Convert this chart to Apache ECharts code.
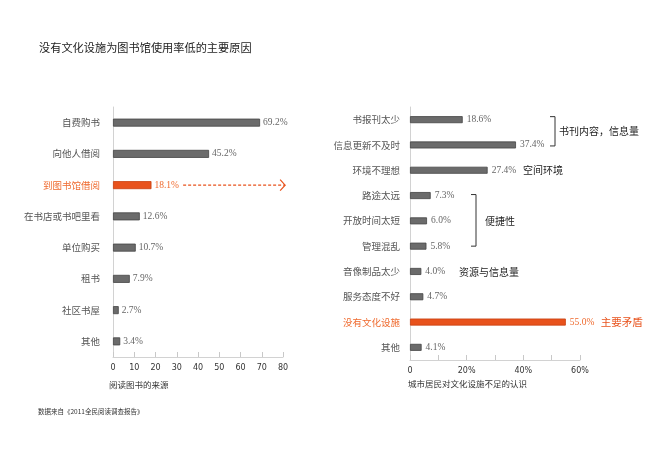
<!DOCTYPE html>
<html>
<head>
<meta charset="utf-8">
<script src="https://cdn.jsdelivr.net/npm/echarts@6/dist/echarts.min.js"></script>
<style>
  html, body { margin: 0; padding: 0; background: #fff; }
  #main { width: 667px; height: 471px; }
</style>
</head>
<body>
<div id="main"></div>
<script>
// 阅读图书的来源
const leftCategories = ['自费购书', '向他人借阅', '到图书馆借阅', '在书店或书吧里看', '单位购买', '租书', '社区书屋', '其他'];
const leftValues = [69.2, 45.2, 18.1, 12.6, 10.7, 7.9, 2.7, 3.4];
const leftHighlight = '到图书馆借阅';

// 城市居民对文化设施不足的认识
const rightCategories = ['书报刊太少', '信息更新不及时', '环境不理想', '路途太远', '开放时间太短', '管理混乱', '音像制品太少', '服务态度不好', '没有文化设施', '其他'];
const rightValues = [18.6, 37.4, 27.4, 7.3, 6.0, 5.8, 4.0, 4.7, 55.0, 4.1];
const rightHighlight = '没有文化设施';
const rightTickLabels = { 0: '0', 20: '20%', 40: '40%', 60: '60%' };

const ORANGE = '#e8521c';
const ORANGE_TXT = '#ef6a2e';
const GREY = '#6b6b6b';
const SANS = '"Noto Sans CJK SC", "DejaVu Sans", sans-serif';
const SERIF = '"Liberation Serif", "Noto Sans CJK SC", serif';

function barData(cats, vals, hl) {
    return vals.map(function (v, i) {
        const on = cats[i] === hl;
        return {
            value: v,
            itemStyle: on ? { color: ORANGE, borderColor: '#c8400f' } : undefined,
            label: on ? { color: ORANGE_TXT } : undefined
        };
    });
}

function catAxis(idx, cats, hl, margin) {
    return {
        type: 'category', gridIndex: idx, data: cats, inverse: true,
        axisLine: { lineStyle: { color: '#d2d2d2', width: 1 } },
        axisTick: { show: false },
        axisLabel: {
            margin: margin, fontSize: 9.5, fontFamily: SANS,
            color: function (v) { return v === hl ? ORANGE_TXT : '#555'; }
        }
    };
}

const myChart = echarts.init(document.getElementById('main'));

const option = {
    animation: false,
    backgroundColor: '#fff',
    grid: [
        { left: 113, width: 170, top: 107, height: 250 },
        { left: 410, width: 170, top: 107, height: 253 }
    ],
    xAxis: [
        {
            type: 'value', gridIndex: 0, min: 0, max: 80, interval: 10,
            axisLine: { show: true, lineStyle: { color: '#d2d2d2' } },
            axisTick: { show: true, inside: true, length: 5, lineStyle: { color: '#c8c8c8' } },
            splitLine: { show: false },
            axisLabel: { fontSize: 8, color: '#333', fontFamily: '"DejaVu Sans", sans-serif', margin: 7 }
        },
        {
            type: 'value', gridIndex: 1, min: 0, max: 60, interval: 10,
            axisLine: { show: true, lineStyle: { color: '#d2d2d2' } },
            axisTick: { show: true, inside: true, length: 5, lineStyle: { color: '#c8c8c8' } },
            splitLine: { show: false },
            axisLabel: {
                fontSize: 8, color: '#333', fontFamily: '"DejaVu Sans", sans-serif', margin: 7,
                formatter: function (v) { return rightTickLabels[v] || ''; }
            }
        }
    ],
    yAxis: [
        catAxis(0, leftCategories, leftHighlight, 13),
        catAxis(1, rightCategories, rightHighlight, 10)
    ],
    series: [
        {
            type: 'bar', xAxisIndex: 0, yAxisIndex: 0, barWidth: 8,
            itemStyle: { color: GREY, borderColor: '#444', borderWidth: 0.8 },
            label: {
                show: true, position: 'right', distance: 3, fontSize: 9.5,
                fontFamily: SERIF, color: '#666',
                formatter: function (p) { return p.value.toFixed(1) + '%'; }
            },
            data: barData(leftCategories, leftValues, leftHighlight)
        },
        {
            type: 'bar', xAxisIndex: 1, yAxisIndex: 1, barWidth: 7,
            itemStyle: { color: GREY, borderColor: '#444', borderWidth: 0.8 },
            label: {
                show: true, position: 'right', distance: 4, fontSize: 9.5,
                fontFamily: SERIF, color: '#666',
                formatter: function (p) { return p.value.toFixed(1) + '%'; }
            },
            data: barData(rightCategories, rightValues, rightHighlight)
        }
    ]
};
myChart.setOption(option);

// annotations, placed from the axes
function ly(cat) { return myChart.convertToPixel({ gridIndex: 0 }, [0, cat])[1]; }
function ry(cat) { return myChart.convertToPixel({ gridIndex: 1 }, [0, cat])[1]; }
function rx(v) { return myChart.convertToPixel({ gridIndex: 1 }, [v, rightCategories[0]])[0]; }
function lx(v) { return myChart.convertToPixel({ gridIndex: 0 }, [v, leftCategories[0]])[0]; }

function txt(t, x, y, size, color, align) {
    return {
        type: 'text', silent: true,
        style: { text: t, x: x, y: y, font: size + 'px ' + SANS, fill: color, align: align || 'left', verticalAlign: 'middle' }
    };
}
function bracket(x, y1, y2) {
    return {
        type: 'polyline', silent: true,
        shape: { points: [[x - 5, y1], [x, y1], [x, y2], [x - 5, y2]] },
        style: { stroke: '#333', lineWidth: 1, fill: null }
    };
}

const yArrow = ly(leftHighlight);
const xA1 = lx(33), xA2 = lx(81);
const b1top = ry(rightCategories[0]) - 3, b1bot = ry(rightCategories[1]) + 1;
const b2top = ry(rightCategories[3]) - 1, b2bot = ry(rightCategories[5]) + 0;

myChart.setOption({
    graphic: [
        txt('没有文化设施为图书馆使用率低的主要原因', 39, 48, 11.2, '#222'),
        txt('阅读图书的来源', 109, 385, 8.5, '#333'),
        txt('城市居民对文化设施不足的认识', 408, 384, 8.5, '#333'),
        txt('数据来自《2011全民阅读调查报告》', 38, 412, 6.5, '#333'),
        {
            type: 'line', silent: true,
            shape: { x1: xA1, y1: yArrow, x2: xA2, y2: yArrow },
            style: { stroke: ORANGE, lineWidth: 1.2, lineDash: [3, 2] }
        },
        {
            type: 'polyline', silent: true,
            shape: { points: [[xA2 - 5, yArrow - 5.5], [xA2, yArrow], [xA2 - 5, yArrow + 5.5]] },
            style: { stroke: ORANGE, lineWidth: 1.2, fill: null }
        },
        bracket(555, b1top, b1bot),
        txt('书刊内容，信息量', 559, (b1top + b1bot) / 2, 10, '#222'),
        txt('空间环境', 523, ry(rightCategories[2]), 10, '#222'),
        bracket(476, b2top, b2bot),
        txt('便捷性', 485, ry(rightCategories[4]), 10, '#222'),
        txt('资源与信息量', 459, ry(rightCategories[6]) + 1, 10, '#222'),
        txt('主要矛盾', rx(55) + 35, ry(rightHighlight), 10.5, ORANGE)
    ]
});
</script>
</body>
</html>
